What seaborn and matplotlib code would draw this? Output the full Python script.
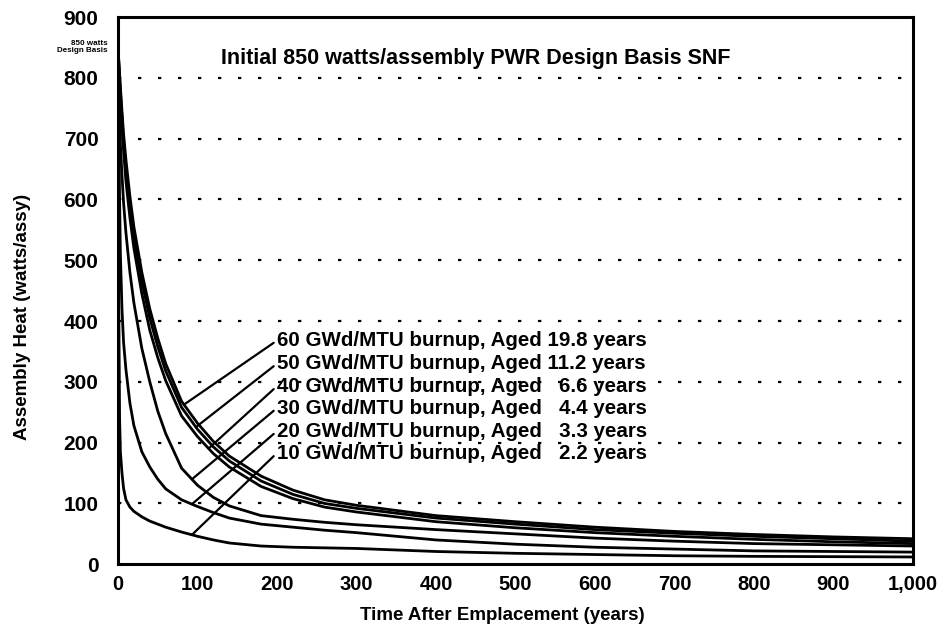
import numpy as np
import pandas as pd
import matplotlib
matplotlib.use("Agg")
import matplotlib.pyplot as plt
import seaborn as sns

# ---- data ----
years = [0, 1, 2, 3, 5, 7, 10, 15, 20, 30, 40, 50, 60, 80, 100, 120, 140,
         180, 220, 260, 300, 400, 500, 600, 700, 800, 900, 1000]

heat_60 = [850, 828, 805, 785, 745, 708, 665, 605, 555, 480, 420, 372, 330,
           268, 232, 202, 178, 145, 122, 106, 97, 80, 70, 61, 54, 49, 45, 42]
heat_50 = [850, 825, 800, 778, 735, 695, 650, 590, 540, 465, 405, 358, 318,
           258, 222, 193, 170, 137, 115, 100, 92, 76, 66, 57, 51, 46, 42, 38]
heat_40 = [850, 820, 790, 765, 720, 680, 630, 570, 520, 445, 385, 340, 302,
           244, 210, 182, 160, 128, 108, 94, 86, 70, 60, 52, 46, 41, 37, 34]
heat_30 = [850, 795, 740, 690, 640, 595, 545, 480, 430, 355, 300, 252, 215,
           158, 130, 110, 96, 80, 74, 69, 65, 57, 50, 43, 38, 34, 32, 30]
heat_20 = [850, 720, 600, 510, 420, 365, 320, 265, 228, 185, 160, 140, 124,
           106, 95, 85, 76, 66, 61, 56, 52, 40, 33, 28, 25, 22, 21, 20]
heat_10 = [850, 420, 240, 185, 150, 125, 106, 94, 87, 78, 71, 66, 61,
           53, 46, 40, 35, 30, 28, 27, 26, 21, 18, 16, 14, 13, 12.5, 12]

series_labels = [
    "60 GWd/MTU burnup, Aged 19.8 years",
    "50 GWd/MTU burnup, Aged 11.2 years",
    "40 GWd/MTU burnup, Aged   6.6 years",
    "30 GWd/MTU burnup, Aged   4.4 years",
    "20 GWd/MTU burnup, Aged   3.3 years",
    "10 GWd/MTU burnup, Aged   2.2 years",
]
series_values = [heat_60, heat_50, heat_40, heat_30, heat_20, heat_10]

x_ticks = [0, 100, 200, 300, 400, 500, 600, 700, 800, 900, 1000]
x_tick_labels = ["0", "100", "200", "300", "400", "500", "600", "700",
                 "800", "900", "1,000"]
y_ticks = [0, 100, 200, 300, 400, 500, 600, 700, 800, 900]

title = "Initial 850 watts/assembly PWR Design Basis SNF"
xlabel = "Time After Emplacement (years)"
ylabel = "Assembly Heat (watts/assy)"
design_note = "850 watts\nDesign Basis"

# leader-line targets (years on each curve) and label anchor positions
leader_years = [83, 98, 114, 93, 93, 93]
label_x = 200
label_y = [368, 330, 293, 257, 219, 183]

# ---- figure ----
sns.set_theme(style="white")
plt.rcParams["font.family"] = ["Liberation Sans", "DejaVu Sans"]

fig = plt.figure(figsize=(9.44, 6.34), dpi=100)
ax = fig.add_axes([0.125, 0.110, 0.842, 0.863])

df = pd.concat(
    [pd.DataFrame({"years": years, "heat": v, "series": lab})
     for lab, v in zip(series_labels, series_values)],
    ignore_index=True,
)
sns.lineplot(data=df, x="years", y="heat", units="series", estimator=None,
             color="black", linewidth=2.0, ax=ax, legend=False)

ax.set_xlim(0, 1000)
ax.set_ylim(0, 900)

# dotted horizontal gridlines
for yv in y_ticks[1:-1]:
    ax.axhline(yv, color="black", linewidth=1.6,
               linestyle=(0, (1.5, 7.5)), zorder=0)

ax.set_xticks(x_ticks)
ax.set_xticklabels(x_tick_labels)
ax.set_yticks(y_ticks)
ax.tick_params(axis="x", direction="in", length=8, width=1.4, pad=8,
               labelsize=14.5, colors="black")
ax.tick_params(axis="y", length=0, pad=14, labelsize=15, colors="black")
for lab in ax.get_xticklabels() + ax.get_yticklabels():
    lab.set_fontweight("bold")

for sp in ax.spines.values():
    sp.set_visible(True)
    sp.set_color("black")
    sp.set_linewidth(2.2)

ax.set_xlabel(xlabel, fontsize=13.5, fontweight="bold", color="black")
ax.set_ylabel(ylabel, fontsize=13.5, fontweight="bold", color="black")
ax.xaxis.set_label_coords(0.484, -0.078)
ax.yaxis.set_label_coords(-0.11, 0.452)

ax.text(0.45, 0.925, title, transform=ax.transAxes, ha="center",
        va="center", fontsize=15.5, fontweight="bold", color="black")

ax.text(-0.013, 851, design_note, transform=ax.get_yaxis_transform(),
        ha="right", va="center", fontsize=5.8, fontweight="bold",
        color="black", linespacing=1.0)

for lab, vals, ly, ty in zip(series_labels, series_values, label_y,
                              leader_years):
    target = (ty, float(np.interp(ty, years, vals)))
    ax.annotate(lab, xy=target, xytext=(label_x, ly), textcoords="data",
                ha="left", va="center", fontsize=14.8, fontweight="bold",
                color="black",
                arrowprops=dict(arrowstyle="-", color="black", lw=1.6,
                                shrinkA=0, shrinkB=0, relpos=(0, 0.5)))

fig.savefig("out.png", dpi=100)
